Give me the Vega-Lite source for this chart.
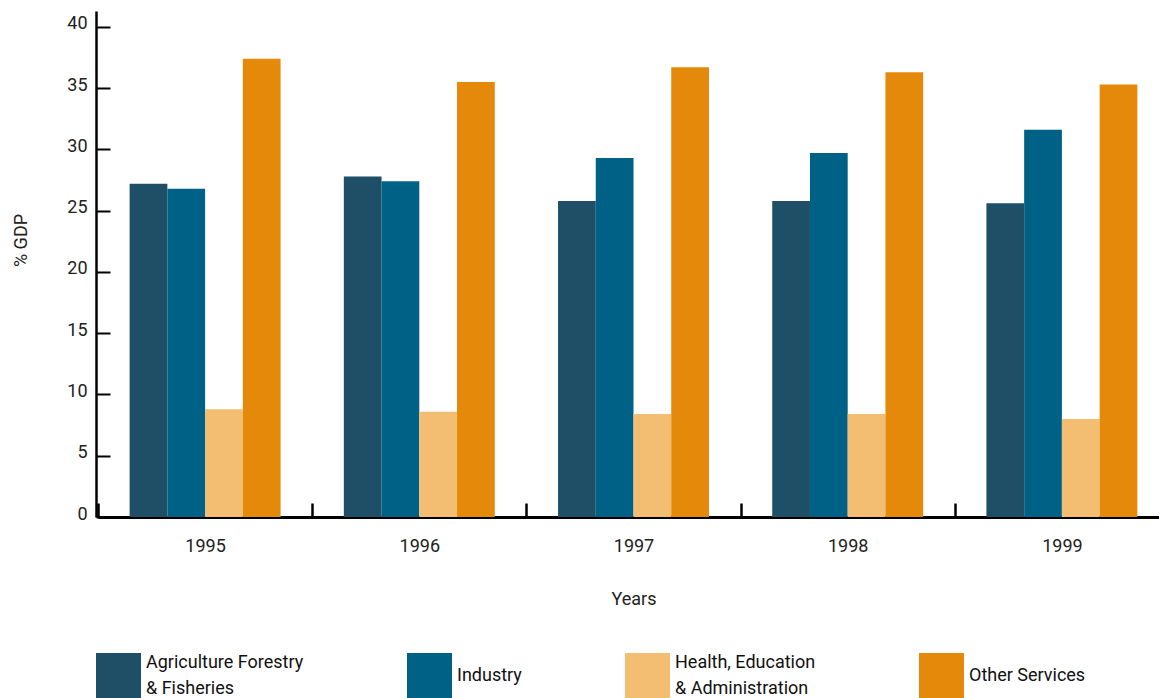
{
  "$schema": "https://vega.github.io/schema/vega-lite/v6.json",
  "width": 1063,
  "height": 506,
  "autosize": {"type": "none"},
  "padding": {"left": 96, "top": 11, "right": 0, "bottom": 181},
  "background": "white",
  "config": {
    "view": {"stroke": null},
    "style": {"guide-label": {"lineHeight": 26}}
  },
  "data": {
    "values": [
      {"year": "1995", "sector": "Agriculture Forestry & Fisheries", "value": 27.2},
      {"year": "1995", "sector": "Industry", "value": 26.8},
      {"year": "1995", "sector": "Health, Education & Administration", "value": 8.8},
      {"year": "1995", "sector": "Other Services", "value": 37.4},
      {"year": "1996", "sector": "Agriculture Forestry & Fisheries", "value": 27.8},
      {"year": "1996", "sector": "Industry", "value": 27.4},
      {"year": "1996", "sector": "Health, Education & Administration", "value": 8.6},
      {"year": "1996", "sector": "Other Services", "value": 35.5},
      {"year": "1997", "sector": "Agriculture Forestry & Fisheries", "value": 25.8},
      {"year": "1997", "sector": "Industry", "value": 29.3},
      {"year": "1997", "sector": "Health, Education & Administration", "value": 8.4},
      {"year": "1997", "sector": "Other Services", "value": 36.7},
      {"year": "1998", "sector": "Agriculture Forestry & Fisheries", "value": 25.8},
      {"year": "1998", "sector": "Industry", "value": 29.7},
      {"year": "1998", "sector": "Health, Education & Administration", "value": 8.4},
      {"year": "1998", "sector": "Other Services", "value": 36.3},
      {"year": "1999", "sector": "Agriculture Forestry & Fisheries", "value": 25.6},
      {"year": "1999", "sector": "Industry", "value": 31.6},
      {"year": "1999", "sector": "Health, Education & Administration", "value": 8.0},
      {"year": "1999", "sector": "Other Services", "value": 35.3}
    ]
  },
  "mark": {"type": "bar"},
  "encoding": {
    "x": {
      "field": "year",
      "type": "nominal",
      "scale": {"range": [2, 1073], "paddingInner": 0, "paddingOuter": 0},
      "axis": {
        "title": "Years",
        "labelAngle": 0,
        "domainColor": "black",
        "domainWidth": 3,
        "tickColor": "black",
        "tickWidth": 2.5,
        "tickSize": -14,
        "tickBand": "extent",
        "grid": false,
        "labelFont": "Roboto",
        "labelFontSize": 18,
        "labelColor": "#222222",
        "labelPadding": 34,
        "titleFont": "Roboto",
        "titleFontSize": 18,
        "titleFontWeight": "normal",
        "titleColor": "#222222",
        "titlePadding": 35
      }
    },
    "xOffset": {
      "field": "sector",
      "type": "nominal",
      "sort": ["Agriculture Forestry & Fisheries", "Industry", "Health, Education & Administration", "Other Services"],
      "scale": {"paddingInner": 0, "paddingOuter": 0.838}
    },
    "y": {
      "field": "value",
      "type": "quantitative",
      "scale": {"domain": [0, 41.3], "nice": false},
      "axis": {
        "title": "% GDP",
        "values": [0, 5, 10, 15, 20, 25, 30, 35, 40],
        "domainColor": "black",
        "domainWidth": 2.5,
        "tickColor": "black",
        "tickWidth": 2,
        "tickSize": -14,
        "grid": false,
        "labelFont": "Roboto",
        "labelFontSize": 18,
        "labelColor": "#222222",
        "labelPadding": 23,
        "labelOffset": -3,
        "titleFont": "Roboto",
        "titleFontSize": 18,
        "titleFontWeight": "normal",
        "titleColor": "#222222",
        "titlePadding": 36,
        "titleY": 229
      }
    },
    "color": {
      "field": "sector",
      "type": "nominal",
      "sort": ["Agriculture Forestry & Fisheries", "Industry", "Health, Education & Administration", "Other Services"],
      "scale": {
        "domain": ["Agriculture Forestry & Fisheries", "Industry", "Health, Education & Administration", "Other Services"],
        "range": ["#1f4f67", "#006186", "#f3be72", "#e5890a"]
      },
      "legend": {
        "orient": "none",
        "legendX": 0,
        "legendY": 642,
        "direction": "horizontal",
        "columns": 4,
        "title": null,
        "symbolType": "square",
        "symbolSize": 2025,
        "symbolStrokeWidth": 0,
        "symbolOpacity": 1,
        "labelFont": "Roboto",
        "labelFontSize": 18,
        "labelColor": "#111111",
        "labelOffset": 5,
        "labelLimit": 400,
        "labelBaseline": {"expr": "datum.label == 'Industry' || datum.label == 'Other Services' ? 'middle' : 'line-bottom'"},
        "columnPadding": 103,
        "rowPadding": 0,
        "padding": 0,
        "labelExpr": "datum.label == 'Agriculture Forestry & Fisheries' ? ['Agriculture Forestry', '& Fisheries'] : datum.label == 'Health, Education & Administration' ? ['Health, Education', '& Administration'] : datum.label"
      }
    }
  }
}
